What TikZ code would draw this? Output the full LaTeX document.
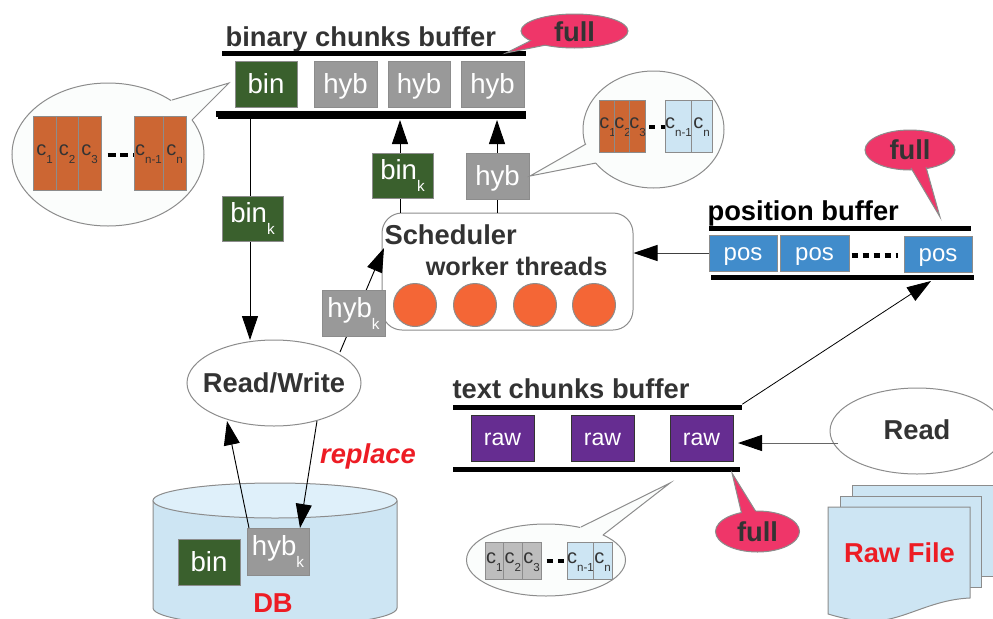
\documentclass[tikz,border=0pt]{standalone}
\usepackage{fontspec}
\setmainfont{Liberation Sans}
\usetikzlibrary{arrows.meta,shapes.geometric,calc}
\definecolor{txt}{HTML}{333333}
\definecolor{grn}{HTML}{3A602D}
\definecolor{hybc}{HTML}{999999}
\definecolor{org}{HTML}{CC6633}
\definecolor{lblue}{HTML}{CDE5F3}
\definecolor{topblue}{HTML}{DFF0FA}
\definecolor{purp}{HTML}{662D91}
\definecolor{posb}{HTML}{418CCB}
\definecolor{fullc}{HTML}{EF3669}
\definecolor{circ}{HTML}{F46636}
\definecolor{redt}{HTML}{ED1C24}
\definecolor{edge}{HTML}{8C8C8C}
\definecolor{bub}{HTML}{FBFDFC}
\definecolor{gray2}{HTML}{BDBDBD}
\newcommand{\fs}[1]{\fontsize{#1}{#1}\selectfont}
\newcommand{\subk}{\raisebox{-9pt}{\fs{11.5}k}}
\newcommand{\csub}[1]{c\raisebox{-6pt}{\fs{8.7}#1}}
\tikzset{
  box/.style={draw=edge,line width=0.75pt,inner sep=0pt,text=white,font=\fs{20.7},text height=13.5pt,text depth=0pt},
  boxk/.style={box,text height=6.5pt},
  bingreen/.style={fill=grn},
  hybgray/.style={fill=hybc},
  rawbox/.style={box,fill=purp,draw=black!80,font=\fs{17.3},text height=11pt},
  posbox/.style={box,fill=posb,font=\fs{18},text height=11.5pt},
  colbox/.style={draw=edge,line width=0.75pt,inner sep=0pt,text=txt,font=\fs{15},text height=4pt,text depth=0pt},
  bar/.style={fill=black,inner sep=0pt,draw=none},
  head/.style={anchor=base west,inner sep=0pt,text=txt,font=\fs{20.5}\bfseries},
  center text/.style={anchor=base,inner sep=0pt,text=txt,font=\fs{20.5}\bfseries},
  redlabel/.style={anchor=base,inner sep=0pt,text=redt,font=\fs{20.5}\bfseries},
  conn/.style={line width=0.7pt,draw=black},
  arr/.style={conn,-{Triangle[length=18pt,width=12pt,color=black]}},
  ell/.style={ellipse,draw=edge,line width=0.75pt,inner sep=0pt,fill=white},
  fdash/.style={line width=2.6pt,dash pattern=on 4.5pt off 4pt},
  fdashl/.style={line width=2.6pt,dash pattern=on 6pt off 3.6pt},
}
\newcommand{\bx}[7]{\node[#1,minimum width={(#4-#2)*0.75pt},minimum height={(#5-#3)*0.75pt}] (#6) at ({(#2+#4)/2},{(#3+#5)/2}) {#7};}
\newcommand{\col}[7]{\node[colbox,fill=#1,minimum width={(#4-#2)*0.75pt},minimum height={(#5-#3)*0.75pt}] (#6) at ({(#2+#4)/2},{(#3+#5)/2}) {#7};}
\newcommand{\barh}[5]{\node[bar,minimum width={(#3-#2)*0.75pt},minimum height={#4*0.75pt}] (#1) at ({(#2+#3)/2},#5) {};}
% name, cx, cy, rx, ry, fill, base1, tip, base2
\newcommand{\callout}[9]{%
  \node[ell,fill=#6,minimum width={2*#4*0.75pt},minimum height={2*#5*0.75pt}] (#1) at (#2,#3) {};
  \coordinate (#1-a) at (#7); \coordinate (#1-t) at (#8); \coordinate (#1-b) at (#9);
  \fill[#6] (#1-a) -- (#1-t) -- (#1-b) -- (#1.center) -- cycle;
  \draw[edge,line width=0.75pt,line join=miter] (#1-a) -- (#1-t) -- (#1-b);
}
\begin{document}
\begin{tikzpicture}[x=0.75pt,y=-0.75pt]
\useasboundingbox (0,0) rectangle (993,618);
\clip (0,0) rectangle (993,618);

% binary chunks buffer
\node[head] (binhead) at (225.3,46) {binary chunks buffer};
\barh{bintop}{222}{526}{5}{53}
\barh{binbotA}{216}{526}{6}{113.5}
\barh{binbotB}{218}{526}{5}{116}
\callout{fulla}{574.5}{31}{53.5}{17}{fullc}{530,41}{506,53}{546,45}
\node[center text] (fullatxt) at (574.5,41) {full};

% scheduler
\node[draw=edge,line width=0.75pt,rounded corners=15pt,fill=white,inner sep=0pt,minimum width={251*0.75pt},minimum height={117*0.75pt}] (sched) at (507.5,271.5) {};
\node[head] (schedtxt) at (384.3,244) {Scheduler};
\node[head,font=\fs{19}\bfseries] (worker) at (425.5,275) {worker threads};
\foreach \i/\x in {1/415,2/475,3/535,4/594}
  \node[circle,draw=edge,line width=0.75pt,fill=circ,inner sep=0pt,minimum size={43*0.75pt}] (w\i) at (\x,305) {};

% Read/Write and connectors behind boxes
\node[ell,minimum width={174*0.75pt},minimum height={86*0.75pt}] (rw) at (274,383) {};
\node[center text] (rwtxt) at (274,392) {Read/Write};

\coordinate (rwout) at (340,352);
\coordinate (schedin) at (384,248);
\draw[arr] (rwout) -- (schedin);
\coordinate (binexit) at (250,118);
\coordinate (rwin) at (250,340);
\draw[arr] (binexit) -- (rwin);
\coordinate (tipA) at (400,120);
\coordinate (tipB) at (497,120);
\draw[arr] (sched.north -| tipA) -- (tipA);
\draw[arr] (sched.north -| tipB) -- (tipB);

% boxes
\bx{box,bingreen}{235}{61}{297}{107}{bina}{bin}
\bx{box,hybgray}{314}{61}{377}{107}{hyba}{hyb}
\bx{box,hybgray}{388}{61}{450}{107}{hybb}{hyb}
\bx{box,hybgray}{461}{61}{524}{107}{hybc}{hyb}
\bx{boxk,bingreen}{222}{196}{283}{241}{binka}{bin\subk}
\bx{boxk,bingreen}{372}{153}{433}{198}{binkb}{bin\subk}
\bx{box,hybgray}{466}{153}{529}{199}{hybd}{hyb}
\bx{boxk,hybgray}{322}{290}{385}{336}{hybka}{hyb\subk}

% left callout
\callout{bubl}{108}{154.5}{96}{71.5}{bub}{172,100}{229,83}{192,120}
\col{org}{33}{116}{56}{190}{la}{\csub{1}}
\col{org}{56}{116}{78}{190}{lb}{\csub{2}}
\col{org}{78}{116}{101}{190}{lc}{\csub{3}}
\col{org}{134}{116}{163}{190}{ld}{\csub{n-1}}
\col{org}{163}{116}{186}{190}{le}{\csub{n}}
\draw[fdashl] (lc.east |- 0,155) ++(6,0) -- (ld.west |- 0,155);

% top-right callout
\callout{bubr}{653.5}{129.5}{70.5}{58.5}{bub}{586,144}{530,176}{596,163}
\col{org}{600}{100}{615}{152}{ra}{\csub{1}}
\col{org}{615}{100}{630}{152}{rb}{\csub{2}}
\col{org}{630}{100}{645}{152}{rc}{\csub{3}}
\col{lblue}{666}{100}{691}{152}{rd}{\csub{n-1}}
\col{lblue}{691}{100}{712}{152}{re}{\csub{n}}
\draw[fdash] (rc.east |- 0,127) ++(3,0) -- (rd.west |- 0,127);

% position buffer
\node[head,text=black] (poshead) at (707.3,220) {position buffer};
\barh{postop}{709}{971}{5}{228.5}
\barh{posbot}{711}{974}{5}{277}
\bx{posbox}{709}{235}{777}{271}{posa}{pos}
\bx{posbox}{780}{235}{849}{271}{posb}{pos}
\bx{posbox}{904}{236}{972}{272}{posc}{pos}
\draw[line width=4.2pt,dash pattern=on 4.5pt off 3.75pt] (posb.east |- 0,255.5) ++(2,0) -- ($(posc.west |- 0,255.5)+(-6,0)$);
\draw[arr,draw=black!75] (posa.west |- 0,253) -- (sched.east |- 0,253);
\callout{fullb}{910}{150}{45}{20}{fullc}{911,168}{940,217}{926,167}
\node[center text] (fullbtxt) at (910,159) {full};

% text chunks buffer
\node[head] (texthead) at (452.3,398) {text chunks buffer};
\barh{texttop}{453}{742}{5}{407}
\barh{textbot}{453}{740}{5}{469.5}
\bx{rawbox}{471}{415}{534}{461}{rawa}{raw}
\bx{rawbox}{571}{415}{634}{461}{rawb}{raw}
\bx{rawbox}{670}{415}{733}{461}{rawc}{raw}
\coordinate (posin) at (931,281);
\draw[arr,line width=0.6pt] (texttop.north east) -- (posin);

% read
\node[ell,minimum width={174*0.75pt},minimum height={86*0.75pt}] (read) at (917,431) {};
\node[center text] (readtxt) at (917,439.5) {Read};
\coordinate (rawin) at (738,443);
\coordinate (readout) at (838,443);
\draw[arr,draw=black!60] (readout) -- (rawin);

% lower callout
\callout{bubt}{546}{560}{79.5}{36}{bub}{581,527}{670,483}{603,535}
\col{gray2}{485}{542}{503.5}{579}{ta}{\csub{1}}
\col{gray2}{503.5}{542}{522}{579}{tb}{\csub{2}}
\col{gray2}{522}{542}{541}{579}{tc}{\csub{3}}
\col{lblue}{568}{542}{593}{579}{td}{\csub{n-1}}
\col{lblue}{593}{542}{612}{579}{te}{\csub{n}}
\draw[fdash] (tc.east |- 0,561) ++(5,0) -- (td.west |- 0,561);

\callout{fullc}{757.5}{531.5}{42}{20.5}{fullc}{741.5,513}{732,473}{755.5,511}
\node[center text] (fullctxt) at (757.5,541) {full};

% raw files
\tikzset{page/.style={draw=edge,line width=0.75pt,fill=lblue}}
\path[page] (852,485) -- (993,485) -- (993,576) -- (852,576) -- cycle;
\path[page] (840,496) -- (981,496) -- (981,587) -- (840,587) -- cycle;
\path[page] (828,507) -- (970,507) -- (970,598) .. controls (925,600) and (900,625) .. (860,621) .. controls (845,619) and (835,616) .. (828,614) -- cycle;
\node[redlabel] (rawtxt) at (899.5,562) {Raw File};

% DB
\path[draw=edge,line width=0.75pt,fill=lblue] (153,501) -- (153,608) arc[start angle=180,end angle=360,x radius=122,y radius=-18] -- (397,501) -- cycle;
\node[ellipse,draw=edge,line width=0.75pt,fill=topblue,inner sep=0pt,minimum width={244*0.75pt},minimum height={35*0.75pt}] (dbtop) at (275,500.5) {};
\bx{box,bingreen}{178}{539}{240}{585}{binc}{bin}
\coordinate (rwbl) at (227,421);
\coordinate (rwbr) at (317,421);
\coordinate (hybl) at (249,528);
\coordinate (hybr) at (300,528);
\bx{boxk,hybgray}{247}{528}{309}{575}{hybkb}{hyb\subk}
\draw[arr] (hybl) -- (rwbl);
\draw[arr] (rwbr) -- (hybr);
\node[redlabel] (dbtxt) at (273,612) {DB};
\node[redlabel,font=\fs{20.5}\bfseries\itshape] (repl) at (368,463) {replace};
\end{tikzpicture}
\end{document}
